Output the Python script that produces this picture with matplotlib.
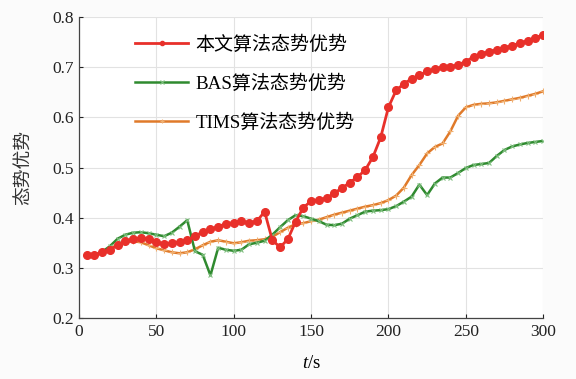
import matplotlib
matplotlib.use("Agg")
import matplotlib.pyplot as plt
import numpy as np

t = list(range(5, 301, 5))

ours = [0.325, 0.325, 0.331, 0.336, 0.345, 0.353, 0.357, 0.360, 0.357, 0.351,
        0.348, 0.349, 0.352, 0.355, 0.364, 0.371, 0.377, 0.382, 0.388, 0.390,
        0.393, 0.390, 0.393, 0.412, 0.355, 0.341, 0.357, 0.392, 0.420, 0.433,
        0.436, 0.439, 0.449, 0.459, 0.470, 0.481, 0.495, 0.521, 0.560, 0.620,
        0.654, 0.667, 0.677, 0.684, 0.692, 0.697, 0.700, 0.701, 0.705, 0.711,
        0.721, 0.727, 0.731, 0.735, 0.739, 0.743, 0.748, 0.753, 0.759, 0.764]

bas = [0.325, 0.325, 0.332, 0.343, 0.358, 0.366, 0.370, 0.371, 0.369, 0.366,
       0.363, 0.370, 0.382, 0.395, 0.333, 0.326, 0.285, 0.340, 0.336, 0.334,
       0.336, 0.347, 0.350, 0.354, 0.366, 0.381, 0.395, 0.405, 0.403, 0.398,
       0.393, 0.386, 0.385, 0.388, 0.398, 0.405, 0.412, 0.414, 0.415, 0.417,
       0.423, 0.432, 0.442, 0.466, 0.445, 0.468, 0.480, 0.480, 0.489, 0.499,
       0.505, 0.507, 0.509, 0.523, 0.535, 0.542, 0.546, 0.549, 0.551, 0.553]

tims = [0.325, 0.325, 0.330, 0.337, 0.347, 0.352, 0.353, 0.351, 0.345, 0.339,
        0.335, 0.331, 0.329, 0.331, 0.337, 0.345, 0.352, 0.355, 0.352, 0.349,
        0.351, 0.354, 0.355, 0.357, 0.362, 0.371, 0.380, 0.387, 0.389, 0.393,
        0.396, 0.401, 0.406, 0.410, 0.414, 0.418, 0.422, 0.425, 0.429, 0.435,
        0.444, 0.460, 0.485, 0.505, 0.528, 0.541, 0.548, 0.572, 0.603, 0.620,
        0.625, 0.627, 0.628, 0.630, 0.633, 0.636, 0.639, 0.643, 0.647, 0.652]

labels = ["本文算法态势优势", "BAS算法态势优势", "TIMS算法态势优势"]
xticks = [0, 50, 100, 150, 200, 250, 300]
yticks = [0.2, 0.3, 0.4, 0.5, 0.6, 0.7, 0.8]

fam = ["Liberation Serif", "Noto Sans CJK SC"]
plt.rcParams["font.family"] = fam
plt.rcParams["mathtext.fontset"] = "custom"
plt.rcParams["mathtext.it"] = "Liberation Serif:italic"
plt.rcParams["mathtext.rm"] = "Liberation Serif"

fig = plt.figure(figsize=(5.76, 3.79), dpi=100, facecolor="#fbfbfb")
ax = fig.add_axes([0.137, 0.161, 0.806, 0.794])
ax.set_facecolor("white")

ax.plot(t, ours, color="#e8302a", lw=2.0, marker="o", ms=5.5, label=labels[0], zorder=5)
ax.plot(t, bas, color="#2f8a2f", lw=1.8, marker="x", ms=3.5, mew=0.8, mec="#7fbf7f", label=labels[1], zorder=4)
ax.plot(t, tims, color="#e07a2a", lw=1.8, marker="+", ms=4, mew=0.8, mec="#f0b070", label=labels[2], zorder=3)

ax.set_xlim(0, 300)
ax.set_ylim(0.2, 0.8)
ax.set_xticks(xticks)
ax.set_yticks(yticks)
ax.set_xticklabels([str(v) for v in xticks])
ax.set_yticklabels([f"{v:.1f}" for v in yticks])
ax.tick_params(direction="in", length=3, labelsize=12.5, colors="#222222", width=0.8)
ax.tick_params(axis="x", pad=4)
ax.grid(True, color="#e2e2e2", lw=0.8)
ax.set_axisbelow(True)
for s in ["top", "right"]:
    ax.spines[s].set_visible(False)
for s in ["left", "bottom"]:
    ax.spines[s].set_color("#444444")
    ax.spines[s].set_linewidth(0.9)

ax.set_xlabel(r"$t$/s", fontsize=13.5, labelpad=11)
ax.set_ylabel("态势优势", fontsize=13.5, labelpad=14, color="#333333")

leg = ax.legend(loc="upper left", bbox_to_anchor=(0.121, 0.94), frameon=False,
                fontsize=13.7, handlelength=2.8, handletextpad=0.37,
                labelspacing=1.1, borderpad=0, borderaxespad=0)
for h in leg.legend_handles:
    h.set_markersize(3)

fig.savefig("out.png", dpi=100, facecolor=fig.get_facecolor())
